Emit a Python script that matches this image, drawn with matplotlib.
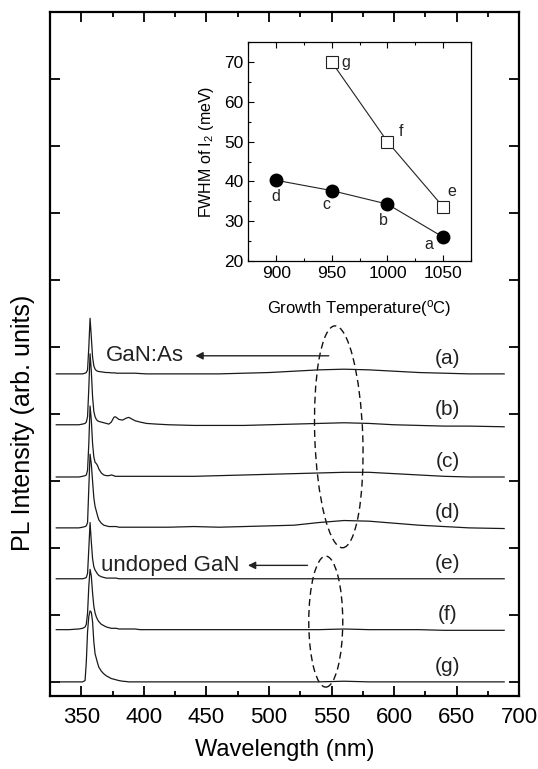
import matplotlib
matplotlib.use("Agg")
import matplotlib.pyplot as plt
from matplotlib.patches import Ellipse
from matplotlib.transforms import ScaledTranslation
from matplotlib.ticker import MultipleLocator

plt.rcParams['font.family'] = ['Liberation Sans', 'DejaVu Sans']
plt.rcParams['mathtext.fontset'] = 'custom'
plt.rcParams['mathtext.rm'] = 'Liberation Sans'
plt.rcParams['mathtext.it'] = 'Liberation Sans'

# ---------------- data: PL spectra ----------------
wavelength = [330, 340, 348, 351, 353, 354, 355, 356, 357, 358, 359, 360, 361, 362,
              363, 364, 366, 368, 370, 372, 374, 376, 377, 378, 380, 383, 386, 388,
              390, 393, 397, 402, 410, 420, 440, 460, 480, 500, 520, 540, 560, 580,
              600, 620, 640, 660, 688]

spec_a = [0.00, 0.00, 0.00, 0.00, 0.01, 0.02, 0.06, 0.40, 0.83, 0.55, 0.25, 0.12, 0.07, 0.05,
          0.04, 0.035, 0.03, 0.025, 0.02, 0.02, 0.015, 0.015, 0.015, 0.01, 0.01, 0.01, 0.01, 0.01,
          0.01, 0.01, 0.005, 0.00, 0.00, 0.00, 0.00, 0.00, 0.01, 0.02, 0.04, 0.06, 0.07, 0.06,
          0.04, 0.02, 0.01, 0.00, 0.00]
spec_b = [0.00, 0.00, 0.00, 0.01, 0.02, 0.04, 0.12, 0.55, 1.06, 0.80, 0.42, 0.20, 0.12, 0.08,
          0.06, 0.05, 0.04, 0.03, 0.02, 0.01, 0.04, 0.11, 0.12, 0.11, 0.08, 0.07, 0.10, 0.11,
          0.09, 0.06, 0.04, 0.02, 0.01, 0.00, -0.01, -0.01, -0.01, 0.00, 0.01, 0.02, 0.03, 0.02,
          0.00, -0.01, -0.02, -0.02, -0.03]
spec_c = [0.00, 0.00, 0.00, 0.01, 0.02, 0.03, 0.10, 0.50, 1.06, 0.85, 0.50, 0.30, 0.22, 0.20,
          0.17, 0.12, 0.06, 0.03, 0.02, 0.02, 0.03, 0.02, 0.01, 0.01, 0.01, 0.01, 0.01, 0.01,
          0.01, 0.01, 0.01, 0.01, 0.01, 0.01, 0.01, 0.02, 0.03, 0.04, 0.05, 0.06, 0.07, 0.07,
          0.05, 0.03, 0.01, 0.00, 0.00]
spec_d = [0.00, 0.00, 0.00, 0.01, 0.02, 0.03, 0.08, 0.60, 1.10, 0.95, 0.70, 0.45, 0.32, 0.25,
          0.18, 0.12, 0.07, 0.04, 0.03, 0.02, 0.02, 0.02, 0.02, 0.02, 0.01, 0.01, 0.01, 0.01,
          0.01, 0.01, 0.01, 0.01, 0.01, 0.01, 0.02, 0.01, 0.02, 0.03, 0.04, 0.08, 0.11, 0.10,
          0.07, 0.04, 0.02, 0.00, -0.01]
spec_e = [0.00, 0.00, 0.00, 0.00, 0.01, 0.02, 0.08, 0.45, 0.84, 0.55, 0.30, 0.18, 0.13, 0.10,
          0.07, 0.05, 0.03, 0.02, 0.01, 0.01, 0.01, 0.01, 0.01, 0.01, 0.00, 0.00, 0.00, 0.00,
          0.00, 0.00, 0.00, 0.00, 0.00, 0.00, 0.00, 0.00, 0.00, 0.00, 0.00, 0.00, 0.00, 0.00,
          0.00, 0.00, 0.00, 0.00, 0.00]
spec_f = [0.00, 0.00, 0.01, 0.02, 0.04, 0.08, 0.25, 0.65, 0.90, 0.80, 0.55, 0.35, 0.25, 0.19,
          0.15, 0.12, 0.08, 0.06, 0.04, 0.03, 0.02, 0.02, 0.02, 0.02, 0.01, 0.01, 0.01, 0.01,
          0.01, 0.01, 0.00, 0.00, 0.00, 0.00, 0.00, 0.00, 0.00, 0.00, 0.00, 0.00, 0.01, 0.00,
          0.00, 0.00, -0.01, -0.01, -0.01]
spec_g = [0.00, 0.00, 0.00, 0.00, 0.02, 0.30, 0.75, 0.98, 1.06, 1.04, 0.90, 0.60, 0.42, 0.35,
          0.28, 0.22, 0.16, 0.12, 0.09, 0.07, 0.05, 0.04, 0.035, 0.03, 0.02, 0.01, 0.005, 0.00,
          0.00, 0.00, 0.00, 0.00, 0.00, 0.00, 0.00, 0.00, 0.00, 0.00, 0.00, 0.00, 0.01, 0.00,
          0.00, 0.00, 0.00, 0.00, 0.00]

spectra = [spec_a, spec_b, spec_c, spec_d, spec_e, spec_f, spec_g]
curve_labels = ['(a)', '(b)', '(c)', '(d)', '(e)', '(f)', '(g)']
offsets = [4.60, 3.84, 3.06, 2.30, 1.54, 0.78, 0.0]

# ---------------- data: inset FWHM ----------------
temp_doped = [900, 950, 1000, 1050]
fwhm_doped = [40.3, 37.7, 34.3, 26.0]
letters_doped = ['d', 'c', 'b', 'a']
temp_undoped = [950, 1000, 1050]
fwhm_undoped = [70.0, 50.0, 33.6]
letters_undoped = ['g', 'f', 'e']

# ---------------- figure ----------------
fig = plt.figure(figsize=(5.38, 7.69), dpi=100)
ax = fig.add_axes([0.093, 0.095, 0.872, 0.889])

line_col = '#1a1a1a'
for spec, off, lab in zip(spectra, offsets, curve_labels):
    ax.plot(wavelength, [v + off for v in spec], color=line_col, lw=0.9)
    ax.text(643, off + 0.23, lab, fontsize=15, ha='center', va='center', color='#222222')

ax.set_xlim(325, 700)
ax.set_ylim(-0.21, 10)
ax.xaxis.set_major_locator(MultipleLocator(50))
ax.xaxis.set_minor_locator(MultipleLocator(25))
ax.yaxis.set_major_locator(MultipleLocator(1))
ax.set_yticklabels([])
ax.tick_params(which='both', direction='in', top=True, right=True, width=1.3, labelsize=16)
ax.tick_params(which='major', length=7)
ax.tick_params(which='minor', length=3.5)
ax.tick_params(axis='x', pad=8)
for s in ax.spines.values():
    s.set_linewidth(1.6)
ax.set_xlabel('Wavelength (nm)', fontsize=17, labelpad=8)
ax.set_ylabel('PL Intensity (arb. units)', fontsize=18)
ax.yaxis.set_label_coords(-0.033, 0.40)

# annotations: text + arrows
ax.text(369.5, 4.87, 'GaN:As', fontsize=16, ha='left', va='center', color='#222222')
ax.annotate('', xy=(439, 4.87), xytext=(550, 4.87),
            arrowprops=dict(arrowstyle='-|>', lw=1.0, color='#222222', mutation_scale=11))
ax.text(365.5, 1.74, 'undoped GaN', fontsize=16, ha='left', va='center', color='#222222')
ax.annotate('', xy=(481, 1.74), xytext=(533, 1.74),
            arrowprops=dict(arrowstyle='-|>', lw=1.0, color='#222222', mutation_scale=11))

# dashed ellipses (sized in inches, centred in data coordinates)
e1 = Ellipse((0, 0), 0.48, 2.22, angle=2.0, fill=False, ls=(0, (5, 3)), lw=1.0,
             ec='#111111', transform=fig.dpi_scale_trans + ScaledTranslation(555.8, 3.66, ax.transData))
e2 = Ellipse((0, 0), 0.34, 1.31, angle=0.0, fill=False, ls=(0, (5, 3)), lw=1.0,
             ec='#111111', transform=fig.dpi_scale_trans + ScaledTranslation(545.4, 0.90, ax.transData))
ax.add_patch(e1)
ax.add_patch(e2)

# ---------------- inset ----------------
axi = fig.add_axes([0.4615, 0.6606, 0.414, 0.2844])
axi.plot(temp_doped, fwhm_doped, color='#222222', lw=0.8, marker='o', ms=9,
         mfc='black', mec='black')
axi.plot(temp_undoped, fwhm_undoped, color='#222222', lw=0.8, marker='s', ms=8.5,
         mfc='white', mec='#222222', mew=0.8)
off_doped = [(0, -12), (-4, -10), (-3, -12), (-10, -5)]
for x, y, l, o in zip(temp_doped, fwhm_doped, letters_doped, off_doped):
    axi.annotate(l, (x, y), xytext=o, textcoords='offset points', fontsize=11.5,
                 ha='center', va='center', color='#222222')
off_und = [(10, 0), (10, 7), (6, 11)]
for x, y, l, o in zip(temp_undoped, fwhm_undoped, letters_undoped, off_und):
    axi.annotate(l, (x, y), xytext=o, textcoords='offset points', fontsize=11.5,
                 ha='center', va='center', color='#222222')
axi.set_xlim(875, 1075)
axi.set_ylim(20, 75)
axi.xaxis.set_major_locator(MultipleLocator(50))
axi.xaxis.set_minor_locator(MultipleLocator(25))
axi.yaxis.set_major_locator(MultipleLocator(10))
axi.yaxis.set_minor_locator(MultipleLocator(5))
axi.tick_params(which='both', direction='in', top=True, right=False, width=0.8, labelsize=12.5)
axi.tick_params(which='major', length=4)
axi.tick_params(which='minor', length=2.5)
for s in axi.spines.values():
    s.set_linewidth(0.9)
axi.set_xlabel('Growth Temperature($^{\\rm o}$C)', fontsize=12, labelpad=12)
axi.set_ylabel('FWHM of I$_2$ (meV)', fontsize=11.5, labelpad=6)

fig.savefig('out.png', dpi=100)
